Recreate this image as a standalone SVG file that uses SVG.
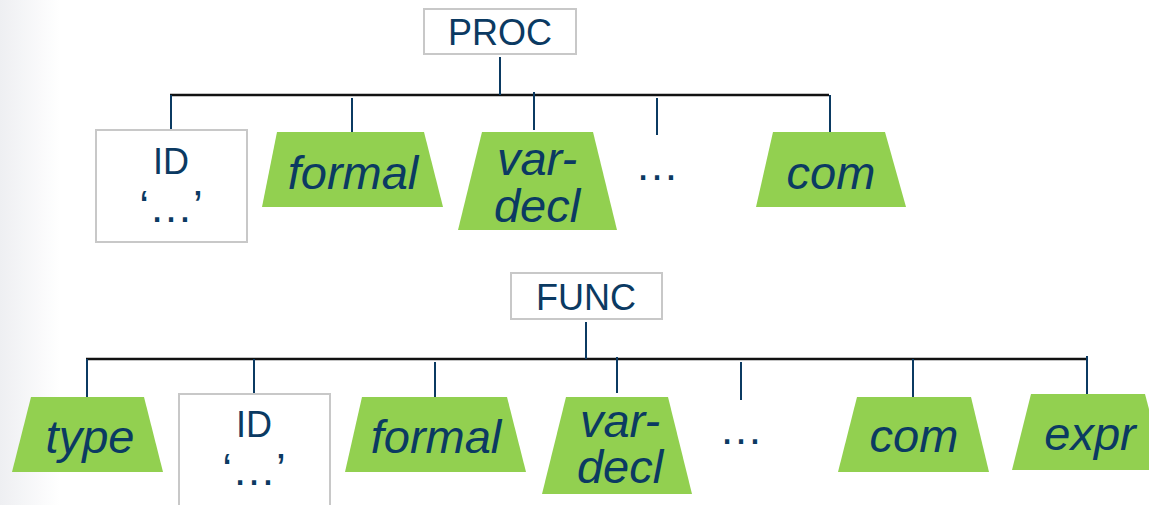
<svg xmlns="http://www.w3.org/2000/svg" width="1149" height="505" viewBox="0 0 1149 505">
<defs>
<linearGradient id="bg" x1="0" y1="0" x2="1" y2="0">
<stop offset="0" stop-color="#eeeff2"/>
<stop offset="1" stop-color="#ffffff"/>
</linearGradient>
<style>
.box{fill:#fff;stroke:#c8c8c8;stroke-width:2}
.trap{fill:#92d050}
.t{font-family:"Liberation Sans",Arial,sans-serif;fill:#0b3a62;text-anchor:middle}
.up{font-size:36px}
.it{font-size:47px;font-style:italic}
.el{font-size:44px}
.bar{stroke:#111;stroke-width:2.5;fill:none}
.drop{stroke:#0b3a62;stroke-width:2;fill:none}
</style>
</defs>
<rect x="0" y="0" width="1149" height="505" fill="#fff"/>
<rect x="0" y="0" width="60" height="505" fill="url(#bg)"/>

<g id="connectors">
<line class="bar" x1="170" y1="95" x2="829" y2="95"/>
<line class="drop" x1="500" y1="57" x2="500" y2="95"/>
<line class="drop" x1="171" y1="95" x2="171" y2="132"/>
<line class="drop" x1="352" y1="98" x2="352" y2="135"/>
<line class="drop" x1="534" y1="92" x2="534" y2="130"/>
<line class="drop" x1="657" y1="98" x2="657" y2="135"/>
<line class="drop" x1="830" y1="95" x2="830" y2="132"/>

<line class="bar" x1="86" y1="359" x2="1088" y2="359"/>
<line class="drop" x1="586" y1="322" x2="586" y2="359"/>
<line class="drop" x1="87" y1="359" x2="87" y2="397"/>
<line class="drop" x1="254" y1="359" x2="254" y2="397"/>
<line class="drop" x1="435" y1="362" x2="435" y2="400"/>
<line class="drop" x1="617" y1="357" x2="617" y2="393"/>
<line class="drop" x1="741" y1="362" x2="741" y2="400"/>
<line class="drop" x1="913" y1="359" x2="913" y2="397"/>
<line class="drop" x1="1087" y1="356" x2="1087" y2="394"/>
</g>

<g id="proc">
<rect class="box" x="424" y="9" width="152" height="45"/>
<text class="t up" x="500" y="45">PROC</text>
</g>
<g id="proc-id">
<rect class="box" x="96" y="130" width="151" height="112"/>
<text class="t up" x="171" y="174">ID</text>
<text class="t el" x="171" y="222">‘…’</text>
</g>
<g id="proc-formal">
<polygon class="trap" points="277,132 424,132 443,207 262,207"/>
<text class="t it" x="353" y="189">formal</text>
</g>
<g id="proc-vardecl">
<polygon class="trap" points="482,132 593,132 617,230 458,230"/>
<text class="t it" x="537" y="175">var-</text>
<text class="t it" x="537" y="222">decl</text>
</g>
<g id="proc-ellipsis">
<text class="t el" x="657" y="180">…</text>
</g>
<g id="proc-com">
<polygon class="trap" points="773,132 885,132 906,207 756,207"/>
<text class="t it" x="831" y="189">com</text>
</g>

<g id="func">
<rect class="box" x="511" y="273" width="151" height="46"/>
<text class="t up" x="586" y="310">FUNC</text>
</g>
<g id="func-type">
<polygon class="trap" points="31,397 144,397 163,472 12,472"/>
<text class="t it" x="90" y="453">type</text>
</g>
<g id="func-id">
<rect class="box" x="179" y="394" width="151" height="120"/>
<text class="t up" x="254" y="437">ID</text>
<text class="t el" x="254" y="485">‘…’</text>
</g>
<g id="func-formal">
<polygon class="trap" points="362,397 507,397 526,472 345,472"/>
<text class="t it" x="436" y="453">formal</text>
</g>
<g id="func-vardecl">
<polygon class="trap" points="566,397 668,397 692,494 542,494"/>
<text class="t it" x="620" y="437">var-</text>
<text class="t it" x="620" y="483">decl</text>
</g>
<g id="func-ellipsis">
<text class="t el" x="741" y="444">…</text>
</g>
<g id="func-com">
<polygon class="trap" points="857,397 971,397 989,472 838,472"/>
<text class="t it" x="914" y="452">com</text>
</g>
<g id="func-expr">
<polygon class="trap" points="1031,394 1145,394 1165,470 1012,470"/>
<text class="t it" x="1090" y="450">expr</text>
</g>
</svg>
